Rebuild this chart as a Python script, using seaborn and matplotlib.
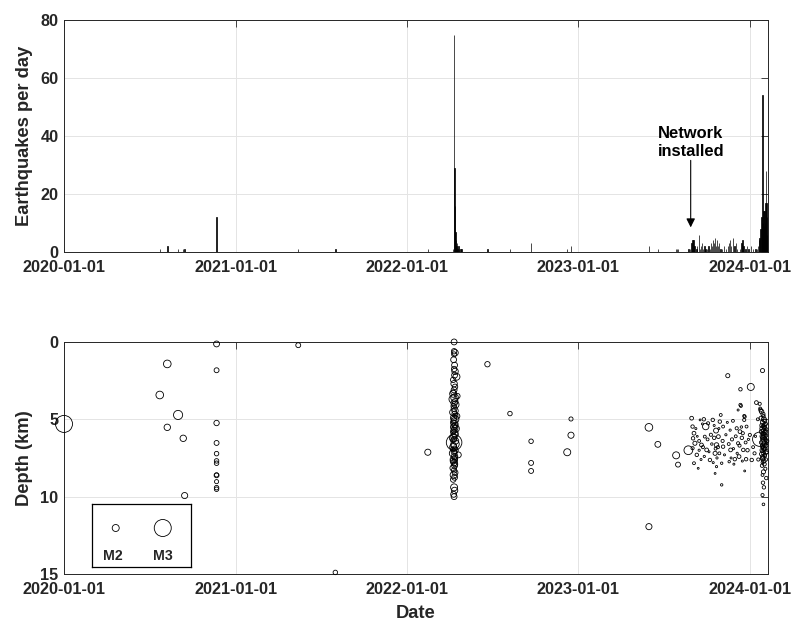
import numpy as np
import pandas as pd
import matplotlib
matplotlib.use('Agg')
import matplotlib.pyplot as plt
import matplotlib.dates as mdates
import seaborn as sns

# ---- daily earthquake counts (top panel) ----
count_dates = [
    '2020-01-01', '2020-07-23', '2020-08-08', '2020-08-31', '2020-09-11', '2020-09-14', '2020-11-21',
    '2021-05-14', '2021-08-01',
    '2022-02-14', '2022-04-09', '2022-04-11', '2022-04-12', '2022-04-13', '2022-04-14', '2022-04-15',
    '2022-04-16', '2022-04-17', '2022-04-18', '2022-04-20', '2022-04-22', '2022-04-25', '2022-04-27',
    '2022-06-21', '2022-08-08', '2022-09-22', '2022-12-08', '2022-12-16',
    '2023-05-31', '2023-06-19', '2023-07-28', '2023-07-30', '2023-08-01', '2023-08-23',
    '2023-08-27', '2023-08-30', '2023-09-01', '2023-09-03', '2023-09-05', '2023-09-09', '2023-09-11',
    '2023-09-15', '2023-09-17', '2023-09-19', '2023-09-21', '2023-09-23', '2023-09-26', '2023-09-29',
    '2023-10-02', '2023-10-05', '2023-10-08', '2023-10-10', '2023-10-12', '2023-10-15', '2023-10-17',
    '2023-10-19', '2023-10-21', '2023-10-23', '2023-10-25', '2023-10-27', '2023-10-30', '2023-11-03',
    '2023-11-07', '2023-11-11', '2023-11-15', '2023-11-18', '2023-11-20', '2023-11-22', '2023-11-26',
    '2023-11-29', '2023-12-03', '2023-12-05', '2023-12-11', '2023-12-14', '2023-12-16', '2023-12-18',
    '2023-12-23', '2023-12-26', '2023-12-29', '2024-01-03', '2024-01-08', '2024-01-13', '2024-01-16',
    '2024-01-18', '2024-01-20', '2024-01-22', '2024-01-24', '2024-01-26', '2024-01-27', '2024-01-28',
    '2024-01-29', '2024-01-30', '2024-01-31', '2024-02-01', '2024-02-02', '2024-02-03', '2024-02-04',
    '2024-02-05', '2024-02-06', '2024-02-07',
]
count_values = [
    1, 1, 2, 1, 1, 1, 12,
    1, 1,
    1, 1, 75, 29, 16, 7, 4,
    2, 3, 1, 2, 1, 1, 1,
    1, 1, 3, 1, 2,
    2, 1, 1, 1, 1, 1,
    1, 3, 4, 4, 2, 1, 2,
    6, 1, 2, 3, 1, 2, 1,
    1, 2, 1, 3, 2, 4, 3,
    5, 2, 4, 2, 3, 1, 1,
    2, 1, 2, 3, 4, 2, 5,
    2, 3, 1, 1, 3, 4, 2,
    1, 2, 1, 2, 1, 1, 1,
    2, 4, 5, 8, 12, 10, 54,
    10, 14, 9, 14, 10, 17, 28,
    17, 12, 6,
]

# ---- earthquake catalogue (bottom panel) ----
# isolated events
single_dates = ['2020-01-01', '2020-07-23', '2020-08-08', '2020-08-08', '2020-08-31', '2020-09-11',
                '2020-09-14', '2021-05-14', '2021-08-01', '2022-02-14', '2022-06-21', '2022-08-08',
                '2022-09-22', '2022-09-22', '2022-09-22', '2022-12-08', '2022-12-16', '2022-12-16',
                '2023-05-31', '2023-05-31', '2023-06-19', '2023-07-28', '2023-08-01', '2023-08-23']
single_depths = [5.3, 3.43, 1.42, 5.52, 4.72, 6.23, 9.93, 0.21, 14.9, 7.13, 1.44, 4.63,
                 6.42, 7.82, 8.34, 7.13, 6.03, 4.98, 5.52, 11.94, 6.62, 7.33, 7.93, 7.0]
single_mags = [3.0, 2.1, 2.1, 1.9, 2.3, 1.9, 1.85, 1.6, 1.5, 1.85, 1.7, 1.5,
               1.5, 1.6, 1.6, 2.0, 1.85, 1.4, 2.1, 1.85, 1.8, 2.0, 1.6, 2.25]

# swarm of 2020-11-21
swarm20_depths = [0.13, 1.83, 5.24, 6.53, 7.22, 7.69, 7.84, 8.62, 8.60, 9.03, 9.42, 9.52]
swarm20_mags = [1.8, 1.6, 1.7, 1.6, 1.5, 1.5, 1.5, 1.6, 1.4, 1.4, 1.5, 1.5]

# swarm starting 2022-04-11 (day offsets)
swarm22_offsets = [0, 0, 2, 0, -1, 1, 0, 2, 1, 5, -2, 0, 2, 0, -2, 7, 1, -2, 2, 0, 3, -1, 0, 2, -2,
                   1, 6, -1, 2, 0, -2, 1, 2, -1, 3, 0, -2, 1, 2, -1, -2, 0, 3, 0, 2, -1, -2, 1, 2, 0,
                   -2, 9, 1, 2, -1, -2, 0, 2, 1, -2, 0, 2, -1, 1, -2, 0, 1, -1, 0, 3, -3, 3, -3, 2, -2]
swarm22_depths = [0.0, 0.6, 0.7, 0.8, 1.15, 1.5, 1.75, 1.9, 2.15, 2.25, 2.45, 2.7, 2.9, 3.1, 3.35,
                  3.5, 3.6, 3.7, 3.85, 3.95, 4.05, 4.15, 4.3, 4.45, 4.55, 4.65, 4.8, 4.9, 5.0, 5.1,
                  5.2, 5.3, 5.4, 5.5, 5.6, 5.7, 5.8, 5.9, 6.0, 6.1, 6.2, 6.3, 6.4, 6.5, 6.6,
                  6.7, 6.8, 6.9, 7.0, 7.1, 7.2, 7.3, 7.4, 7.5, 7.6, 7.7, 7.8, 7.9, 8.0, 8.15,
                  8.3, 8.45, 8.6, 8.75, 8.9, 9.4, 9.6, 9.85, 10.0, 5.55, 6.35, 4.75, 6.95, 7.65, 3.25]
swarm22_mags = [1.8, 1.7, 1.9, 1.6, 1.8, 1.8, 1.7, 1.9, 1.8, 2.0, 1.7, 1.9, 1.7, 1.8, 2.0,
                1.7, 2.1, 2.2, 1.8, 1.9, 2.0, 1.7, 1.8, 1.9, 2.0, 1.7, 1.8, 1.9, 2.1, 1.8,
                1.7, 2.0, 1.8, 1.9, 2.1, 1.8, 1.7, 2.0, 1.9, 1.8, 2.1, 1.7, 1.9, 2.9, 2.2,
                1.8, 2.0, 1.7, 1.9, 1.8, 2.1, 1.8, 1.9, 1.7, 2.0, 1.8, 1.9, 1.7, 1.8, 1.9,
                1.7, 1.8, 2.0, 1.8, 1.7, 2.0, 1.9, 1.8, 1.8, 1.6, 1.5, 1.6, 1.5, 1.6, 1.6]

# activity after the network was installed (2023-08 .. 2024-01)
cloud_dates = ['2023-08-30', '2023-09-01', '2023-09-02', '2023-09-04', '2023-09-04', '2023-09-06',
               '2023-09-01', '2023-09-10', '2023-09-13', '2023-09-17', '2023-09-25', '2023-09-29',
               '2023-10-04', '2023-09-27', '2023-09-20', '2023-10-01', '2023-10-08', '2023-10-19',
               '2023-10-22', '2023-10-26', '2023-10-21', '2023-10-29', '2023-10-31', '2023-11-05',
               '2023-10-14', '2023-10-22', '2023-11-02', '2023-11-02', '2023-11-05', '2023-11-18',
               '2023-11-21', '2023-12-04', '2023-12-07', '2023-12-11', '2023-12-13', '2023-12-21',
               '2023-12-25', '2023-12-18', '2023-12-24', '2024-01-01', '2024-01-05', '2023-12-09',
               '2023-11-30', '2023-12-21', '2023-11-15', '2023-12-12', '2024-01-03', '2023-12-12',
               '2023-12-07', '2023-12-20', '2023-12-20', '2024-01-15',
               '2023-09-08', '2023-09-11', '2023-09-15', '2023-09-15', '2023-09-19', '2023-09-22',
               '2023-09-23', '2023-09-26', '2023-10-03', '2023-10-06', '2023-10-10', '2023-10-12',
               '2023-10-15', '2023-10-17', '2023-10-17', '2023-10-19', '2023-10-20', '2023-10-23',
               '2023-10-25', '2023-10-27', '2023-10-28', '2023-11-04', '2023-11-08', '2023-11-11',
               '2023-11-14', '2023-11-17', '2023-11-20', '2023-11-22', '2023-11-24', '2023-11-26',
               '2023-11-27', '2023-11-28', '2023-12-02', '2023-12-05', '2023-12-10', '2023-12-14',
               '2023-12-15', '2023-12-16', '2023-12-17', '2023-12-23', '2023-12-27', '2023-12-29',
               '2024-01-08', '2024-01-11', '2024-01-13', '2024-01-18', '2024-01-19']
cloud_depths = [4.93, 5.47, 6.23, 5.90, 7.84, 6.55,
                6.87, 7.30, 8.17, 5.04, 5.00, 5.47,
                5.26, 6.12, 6.66, 6.98, 7.63, 7.20,
                6.66, 6.12, 5.73, 5.15, 4.72, 5.47,
                5.04, 8.06, 7.84, 9.24, 6.77, 7.74,
                6.98, 5.58, 6.55, 5.80, 4.14, 4.83,
                5.47, 6.98, 7.58, 6.01, 7.63, 7.41,
                7.58, 8.34, 2.18, 3.06, 2.91, 4.07,
                4.40, 4.78, 5.04, 3.92,
                5.6, 6.1, 6.4, 7.0, 7.6, 5.3,
                6.8, 7.4, 6.3, 7.1, 6.0, 6.6,
                7.8, 6.2, 5.4, 8.5, 6.9, 7.5,
                6.8, 5.6, 7.2, 6.4, 7.3, 6.0,
                5.2, 6.6, 5.7, 7.5, 6.3, 5.1,
                6.9, 7.9, 6.1, 7.2, 6.7, 5.5,
                6.2, 7.7, 5.9, 6.5, 7.0, 6.3,
                6.8, 7.2, 6.1, 5.0, 7.6]
cloud_mags = [1.3, 1.2, 1.2, 1.3, 1.0, 1.4,
              1.1, 1.2, 0.5, 0.5, 1.2, 1.9,
              1.1, 1.0, 1.3, 1.3, 1.2, 1.4,
              1.5, 1.3, 1.6, 1.2, 1.0, 1.0,
              1.2, 0.7, 0.8, 0.8, 1.2, 0.8,
              1.3, 1.1, 1.1, 1.3, 1.0, 1.1,
              1.0, 1.2, 1.2, 1.1, 1.2, 1.3,
              1.2, 0.5, 1.4, 1.2, 2.0, 1.1,
              0.6, 1.0, 1.1, 1.3,
              0.6, 0.5, 1.0, 0.7, 0.6, 0.6,
              1.1, 0.7, 1.0, 0.6, 1.1, 0.8,
              0.6, 1.2, 0.6, 0.5, 1.0, 0.7,
              1.1, 0.6, 1.0, 1.1, 0.6, 0.7,
              0.6, 1.0, 0.7, 0.6, 1.1, 1.0,
              0.7, 0.6, 1.0, 0.7, 1.1, 0.8,
              1.2, 0.6, 1.1, 1.0, 1.2, 0.7,
              1.0, 1.1, 0.7, 1.0, 1.1]

# swarm of late January 2024
swarm24_dates = ['2024-01-24', '2024-01-26', '2024-01-28', '2024-01-22', '2024-01-23', '2024-01-29',
                 '2024-01-30', '2024-01-25', '2024-01-31', '2024-02-02', '2024-01-28', '2024-02-04',
                 '2024-01-27', '2024-01-29', '2024-02-01', '2024-01-28', '2024-02-05', '2024-01-30',
                 '2024-01-26', '2024-02-03', '2024-01-28', '2024-01-31', '2024-02-04', '2024-01-27',
                 '2024-01-29', '2024-02-02', '2024-01-22', '2024-01-28', '2024-02-06', '2024-01-30',
                 '2024-01-25', '2024-02-01', '2024-01-28', '2024-02-04', '2024-01-29', '2024-01-31',
                 '2024-02-03', '2024-01-27', '2024-01-28', '2024-02-05', '2024-01-30', '2024-01-26',
                 '2024-02-02', '2024-01-28', '2024-01-29', '2024-02-04', '2024-01-31', '2024-01-28',
                 '2024-02-01', '2024-01-27', '2024-02-03', '2024-01-30', '2024-01-28', '2024-02-05',
                 '2024-01-29', '2024-01-31', '2024-01-28', '2024-01-30',
                 '2024-02-01', '2024-02-03', '2024-01-29', '2024-02-05', '2024-01-31', '2024-02-02',
                 '2024-01-28', '2024-02-04', '2024-01-30', '2024-02-06', '2024-01-27', '2024-02-01']
swarm24_depths = [4.4, 4.5, 1.85, 4.0, 4.3, 4.67,
                  4.8, 4.93, 5.0, 5.1, 5.2, 5.3,
                  5.4, 5.45, 5.5, 5.6, 5.65, 5.7,
                  5.8, 5.85, 5.9, 6.0, 6.05, 6.1,
                  6.2, 6.25, 6.29, 6.3, 6.4, 6.45,
                  6.5, 6.6, 6.65, 6.7, 6.8, 6.85,
                  6.9, 7.0, 7.05, 7.1, 7.2, 7.25,
                  7.3, 7.4, 7.5, 7.6, 7.7, 7.8,
                  7.9, 8.0, 8.2, 8.4, 8.6, 8.8,
                  9.1, 9.4, 9.9, 10.5,
                  5.35, 5.75, 6.15, 6.55, 6.95, 7.35,
                  7.55, 6.35, 5.95, 7.15, 6.75, 5.55]
swarm24_mags = [1.3, 1.5, 1.4, 1.1, 1.0, 1.4,
                1.2, 1.4, 1.6, 1.3, 1.4, 1.2,
                1.5, 1.1, 1.4, 1.7, 1.2, 1.3,
                1.5, 1.4, 1.2, 1.6, 1.3, 1.4,
                1.5, 1.2, 2.8, 1.3, 1.4, 1.7,
                1.2, 1.5, 1.3, 1.4, 1.2, 1.6,
                1.3, 1.4, 1.1, 1.5, 1.2, 1.4,
                1.0, 1.3, 1.5, 1.2, 1.4, 1.0,
                1.3, 1.2, 1.1, 1.4, 1.0, 1.2,
                1.2, 1.2, 1.1, 0.9,
                1.3, 1.2, 1.4, 1.1, 1.3, 1.2,
                1.4, 1.1, 1.3, 1.0, 1.2, 1.3]

network_date = '2023-08-28'

# ---- build tables ----
counts = pd.DataFrame({'date': pd.to_datetime(count_dates), 'n': count_values})
counts['num'] = mdates.date2num(counts['date'])

base22 = pd.Timestamp('2022-04-11')
cat = pd.concat([
    pd.DataFrame({'date': pd.to_datetime(single_dates), 'depth': single_depths, 'mag': single_mags}),
    pd.DataFrame({'date': pd.Timestamp('2020-11-21'), 'depth': swarm20_depths, 'mag': swarm20_mags}),
    pd.DataFrame({'date': [base22 + pd.Timedelta(days=d) for d in swarm22_offsets],
                  'depth': swarm22_depths, 'mag': swarm22_mags}),
    pd.DataFrame({'date': pd.to_datetime(cloud_dates), 'depth': cloud_depths, 'mag': cloud_mags}),
    pd.DataFrame({'date': pd.to_datetime(swarm24_dates), 'depth': swarm24_depths, 'mag': swarm24_mags}),
], ignore_index=True)
cat['num'] = mdates.date2num(cat['date'])


def mag_area(m):
    # marker diameter ~7 px at M2, ~17 px at M3 (points^2 at 100 dpi)
    return (7.0 * 0.72 * 2.43 ** (np.asarray(m) - 2.0)) ** 2


cat['area'] = mag_area(cat['mag'])

# ---- style ----
sns.set_style('white')
plt.rcParams['font.family'] = ['Liberation Sans', 'DejaVu Sans']
plt.rcParams['font.weight'] = 'bold'
plt.rcParams['axes.labelweight'] = 'bold'
dark = '#262626'

x0 = mdates.date2num(pd.Timestamp('2020-01-01'))
x1 = mdates.date2num(pd.Timestamp('2024-02-08'))
year_ticks = mdates.date2num(pd.to_datetime(['2020-01-01', '2021-01-01', '2022-01-01',
                                             '2023-01-01', '2024-01-01']))

fig = plt.figure(figsize=(8, 6.35), dpi=100)
ax1 = fig.add_axes([0.08, 0.6031, 0.8796, 0.3654])
ax2 = fig.add_axes([0.08, 0.0961, 0.8796, 0.3654])

# top: earthquakes per day
sns.histplot(x=counts['num'], weights=counts['n'], binwidth=1, binrange=(x0 - 0.5, x1 + 0.5),
             color='black', edgecolor='black', linewidth=0.5, alpha=1, ax=ax1)
ax1.set_ylim(0, 80)
ax1.set_yticks([0, 20, 40, 60, 80])
ax1.set_ylabel('Earthquakes per day', fontsize=13.2, color=dark)
ax1.set_xlabel('')

net = mdates.date2num(pd.Timestamp(network_date))
ax1.annotate('', xy=(net, 8.5), xytext=(net, 31.6),
             arrowprops=dict(arrowstyle='-|>', color='black', lw=0.8, mutation_scale=13,
                             shrinkA=0, shrinkB=0))
ax1.text(net, 32.2, 'Network\ninstalled', ha='center', va='bottom', fontsize=11.9,
         fontweight='bold', color='black')

# bottom: depth vs date, sized by magnitude
amin, amax = cat['area'].min(), cat['area'].max()
sns.scatterplot(data=cat, x='num', y='depth', size='area', sizes=(amin, amax),
                size_norm=(amin, amax), facecolor='none', edgecolor='black', linewidth=0.6,
                legend=False, clip_on=False, ax=ax2, zorder=3)
ax2.set_ylim(15, 0)
ax2.set_yticks([0, 5, 10, 15])
ax2.set_ylabel('Depth (km)', fontsize=13.2, color=dark)
ax2.set_xlabel('Date', fontsize=13.2, color=dark)
ax2.xaxis.set_label_coords(0.5, -0.135)

for ax in (ax1, ax2):
    ax.set_xlim(x0, x1)
    ax.set_xticks(year_ticks)
    ax.xaxis.set_major_formatter(mdates.DateFormatter('%Y-%m-%d'))
    ax.grid(True, color='#e4e4e4', linewidth=0.7)
    ax.set_axisbelow(True)
    ax.tick_params(direction='in', length=5, width=0.6, top=True, right=True,
                   colors=dark, labelsize=11.7)
    ax.tick_params(axis='x', pad=5.5)
    ax.tick_params(axis='y', pad=4)
    ax.yaxis.set_label_coords(-0.044, 0.5)
    for s in ax.spines.values():
        s.set_color(dark)
        s.set_linewidth(0.7)
    for lbl in ax.get_xticklabels() + ax.get_yticklabels():
        lbl.set_fontweight('bold')

# magnitude key
axl = fig.add_axes([92.3 / 800, 1 - 567 / 635, 98.4 / 800, 62.7 / 635])
axl.set_xlim(0, 1)
axl.set_ylim(0, 1)
axl.scatter([0.238, 0.716], [0.622, 0.622], s=mag_area([2.0, 3.0]), facecolor='none',
            edgecolor='black', linewidth=0.6)
axl.text(0.214, 0.175, 'M2', ha='center', va='center', fontsize=10.2, fontweight='bold')
axl.text(0.721, 0.175, 'M3', ha='center', va='center', fontsize=10.2, fontweight='bold')
axl.set_xticks([])
axl.set_yticks([])
for s in axl.spines.values():
    s.set_color('black')
    s.set_linewidth(0.9)
    s.set_visible(True)

fig.savefig('out.png', dpi=100)
